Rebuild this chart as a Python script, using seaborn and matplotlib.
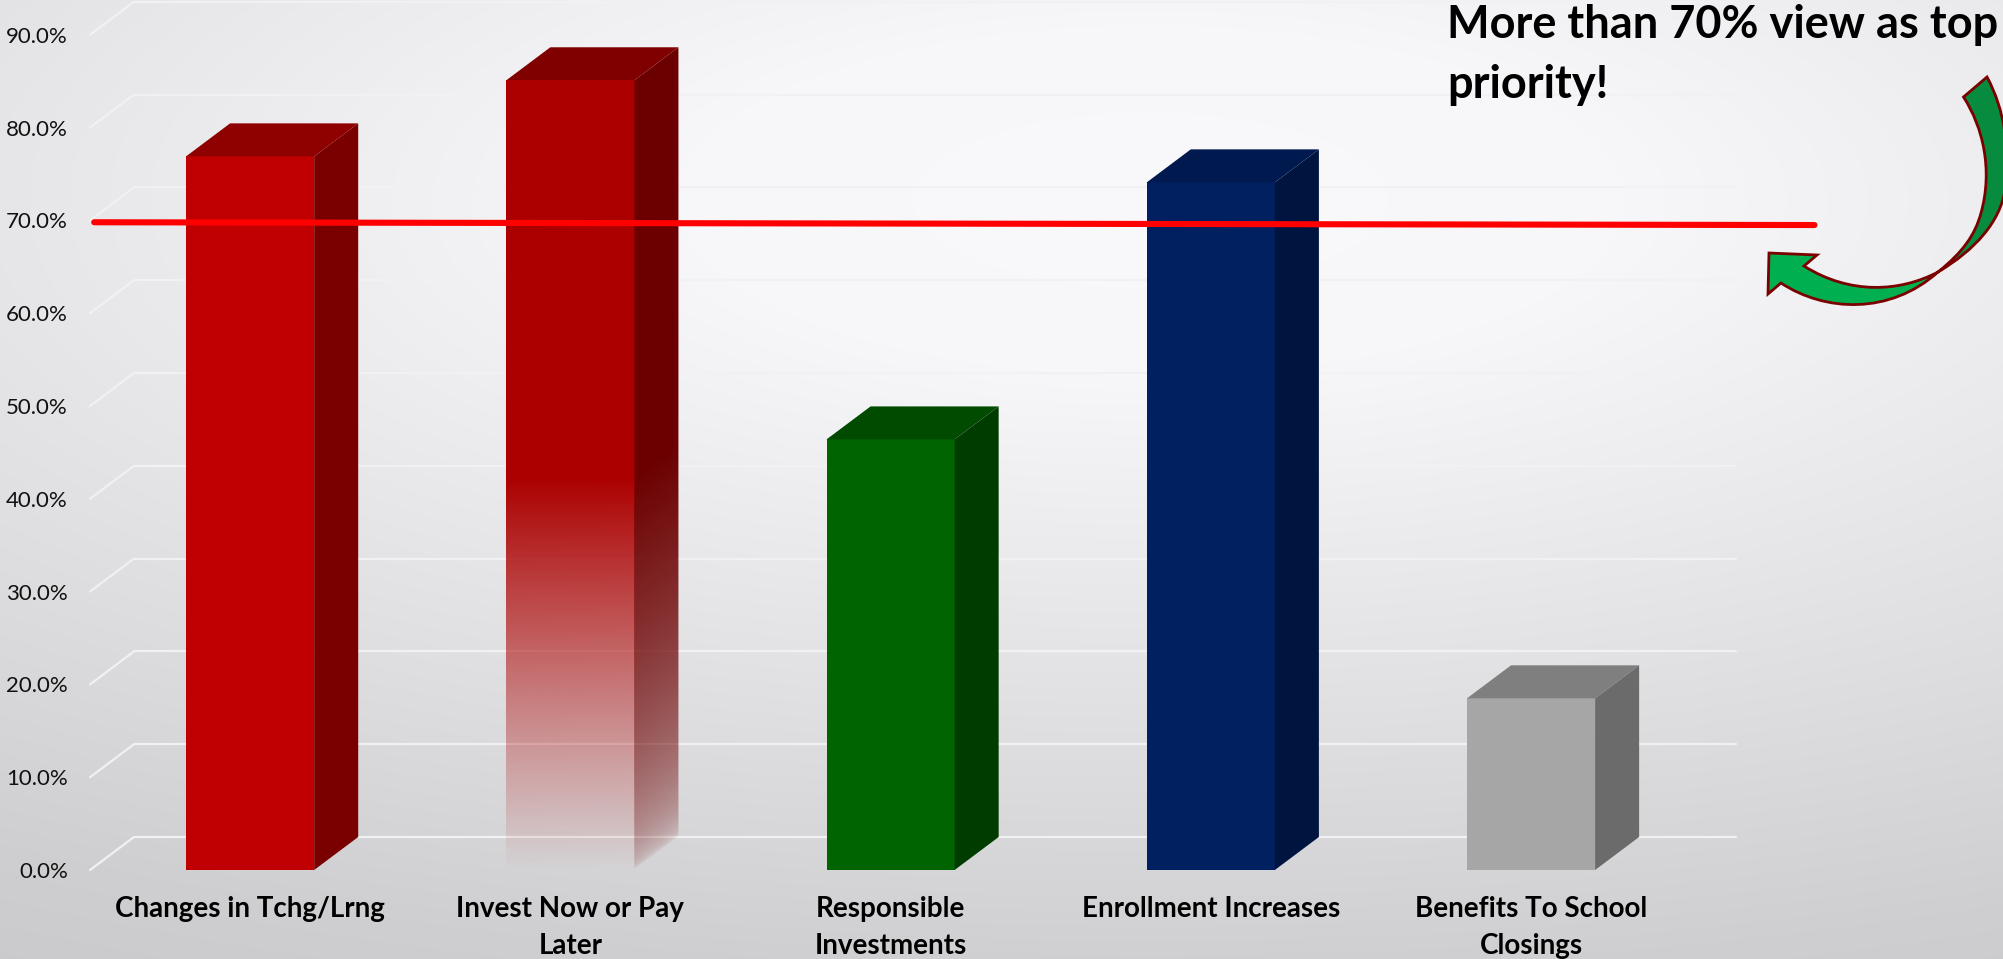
import numpy as np
import matplotlib
matplotlib.use("Agg")
import matplotlib.pyplot as plt
from matplotlib.patches import Polygon, PathPatch
from matplotlib.path import Path
import seaborn as sns

categories = ["Changes in Tchg/Lrng", "Invest Now or Pay\nLater", "Responsible\nInvestments",
              "Enrollment Increases", "Benefits To School\nClosings"]
values = [76.9, 85.1, 46.4, 74.1, 18.5]
front_colors = ["#C00000", "#AC0000", "#006400", "#002060", "#A6A6A6"]
top_colors = ["#8F0000", "#800000", "#004B00", "#001A4F", "#7F7F7F"]
side_colors = ["#7A0000", "#6C0000", "#003C00", "#001440", "#6B6B6B"]
tick_values = [0, 10, 20, 30, 40, 50, 60, 70, 80, 90]
tick_labels = ["0.0%", "10.0%", "20.0%", "30.0%", "40.0%", "50.0%", "60.0%", "70.0%", "80.0%", "90.0%"]
target_x = [-0.487, 4.885]
target_y = [69.8, 69.5]
note = "More than 70% view as top\npriority!"

W, H = 2003, 959
sns.set_theme(style="white")
plt.rcParams["font.family"] = ["Lato", "DejaVu Sans"]

fig = plt.figure(figsize=(W / 100, H / 100), dpi=100)

# slide background
bg = fig.add_axes([0, 0, 1, 1], zorder=0)
xx, yy = np.meshgrid(np.arange(W), np.arange(H))
t = np.sqrt(((xx - 1150) / 1900) ** 2 + ((yy - 200) / 700) ** 2)
shade = np.interp(t, [0, 0.25, 1.1, 1.4], [249, 247, 207, 198]) / 255
bg.imshow(np.dstack([shade, shade, np.clip(shade + 0.008, 0, 1)]), aspect="auto")
bg.axis("off")

ax = fig.add_axes([90 / W, (H - 870) / H, (1736 - 90) / W, 870 / H], zorder=1)
ax.patch.set_alpha(0)
sns.barplot(x=categories, y=values, hue=categories, palette=front_colors, saturation=1,
            width=0.4, legend=False, ax=ax, zorder=3)

xlim = (-0.5, 4.64)
ylim = (0, 93.75)
dx, dy = 44 / 320, 3.556

# back wall lines
for v in tick_values:
    ax.plot([-0.5, -0.5 + dx], [v, v + dy], color="#F1F1F3", lw=1.6, zorder=1, clip_on=False)
    ax.plot([-0.5 + dx, xlim[1]], [v + dy, v + dy], color="#F1F1F3", lw=1.6, zorder=1, clip_on=False)


def fade_image(x0, x1, y0, y1, color, power, sheared, clip):
    xs = np.linspace(x0, x1, 80)
    ys = np.linspace(y0, y1, 500)
    gx, gy = np.meshgrid(xs, ys)
    level = gy - (gx - x0) / dx * dy if sheared else gy
    alpha = np.clip(level / 42.1, 0, 1) ** power
    rgba = np.zeros(gx.shape + (4,))
    rgba[..., :3] = matplotlib.colors.to_rgb(color)
    rgba[..., 3] = alpha
    im = ax.imshow(rgba, extent=(x0, x1, y0, y1), origin="lower", aspect="auto",
                   zorder=3, interpolation="bilinear")
    im.set_clip_path(clip)


# 3d faces are built from the bars seaborn drew
for i, bar in enumerate(ax.patches):
    x0, x1 = bar.get_x(), bar.get_x() + bar.get_width()
    h = bar.get_height()
    side = Polygon([(x1, 0), (x1 + dx, dy), (x1 + dx, h + dy), (x1, h)], facecolor=side_colors[i],
                   edgecolor="none", zorder=3)
    top = Polygon([(x0, h), (x1, h), (x1 + dx, h + dy), (x0 + dx, h + dy)], facecolor=top_colors[i],
                  edgecolor="none", zorder=3)
    ax.add_patch(side)
    ax.add_patch(top)
    bar.set_edgecolor("none")
    if i == 1:
        # this bar fades out towards the floor
        bar.set_facecolor("none")
        side.set_facecolor("none")
        fade_image(x0, x1, 0, h, front_colors[i], 1.0, False, bar)
        fade_image(x1, x1 + dx, 0, h + dy, side_colors[i], 0.45, True, side)

ax.plot(target_x, target_y, color="#FF0000", lw=4.4, solid_capstyle="round", zorder=6, clip_on=False)

ax.set_xlim(xlim)
ax.set_ylim(ylim)
ax.set_yticks(tick_values)
ax.set_yticklabels(tick_labels, fontsize=16, color="#111111")
ax.tick_params(axis="y", length=0, pad=16)
ax.tick_params(axis="x", length=0, pad=19)
ax.set_xticks(range(len(categories)))
ax.set_xticklabels(categories, fontsize=20, fontweight="bold", color="black", linespacing=1.5)
ax.set_xlabel("")
ax.set_ylabel("")
sns.despine(ax=ax, left=True, bottom=True)

# curved arrow and note sit on a pixel overlay
over = fig.add_axes([0, 0, 1, 1], zorder=2)
over.set_xlim(0, W)
over.set_ylim(H, 0)
over.axis("off")
M, L, C, Z = Path.MOVETO, Path.LINETO, Path.CURVE4, Path.CLOSEPOLY
dark_arrow = Path(
    [(1987, 77), (1963.5, 97), (1983, 127), (1993, 170), (1981, 213), (1975, 235), (1963, 252), (1938, 272),
     (1975, 250), (2000, 222), (2005, 190), (2010, 150), (2005, 110), (1987, 77), (1987, 77)],
    [M, L, C, C, C, C, C, C, C, C, C, C, C, C, Z])
light_arrow = Path(
    [(1938, 272), (1900, 292), (1850, 295), (1804, 266), (1817, 255), (1769, 253), (1768, 294), (1781, 283),
     (1825, 312), (1890, 315), (1938, 272), (1938, 272)],
    [M, C, C, C, L, L, L, L, C, C, C, Z])
over.add_patch(PathPatch(dark_arrow, facecolor="#068B3F", edgecolor="#7B0000", lw=2, joinstyle="miter"))
over.add_patch(PathPatch(light_arrow, facecolor="#00B050", edgecolor="#7B0000", lw=2, joinstyle="miter"))
over.text(1447, 38, note.split("\n")[0], fontsize=32.5, fontweight="bold", color="black", va="baseline", ha="left")
over.text(1447, 98, note.split("\n")[1], fontsize=32.5, fontweight="bold", color="black", va="baseline", ha="left")

fig.savefig("out.png", dpi=100)
